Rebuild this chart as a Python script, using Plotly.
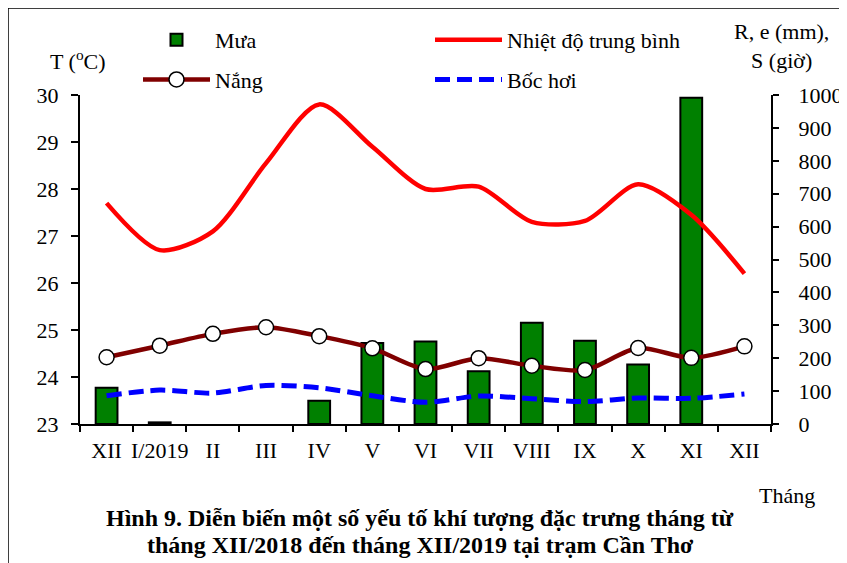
import plotly.graph_objects as go

# ---- data ----
months = ["XII/2018", "I/2019", "II", "III", "IV", "V", "VI", "VII", "VIII", "IX", "X", "XI", "XII/2019"]
month_labels = ["XII", "I/2019", "II", "III", "IV", "V", "VI", "VII", "VIII", "IX", "X", "XI", "XII"]
rain_mm = [110, 5, 0, 0, 71, 246, 251, 160, 308, 253, 181, 992, 0]
temp_c = [27.7, 26.7, 27.1, 28.55, 29.8, 28.9, 28.0, 28.05, 27.3, 27.32, 28.1, 27.45, 26.2]
sun_h = [203, 238, 274, 294, 267, 230, 167, 200, 177, 164, 231, 201, 236]
evap_mm = [86, 103, 94, 117, 110, 86, 66, 85, 77, 68, 79, 78, 91]

FONT = "Liberation Serif"
W, H = 847, 563
OFF = 8  # page body margin of the html page
# plot area in window pixels: x 80..771, y 95..424
PX0, PX1, PY0, PY1 = 80, 771, 95, 424
ML, MT = PX0 - OFF, PY0 - OFF
PW, PH = PX1 - PX0, PY1 - PY0
MR, MB = W - ML - PW, H - MT - PH


def px_x(p):
    return (p - PX0) / PW


def px_y(p):
    return 1 - (p - PY0) / PH


fig = go.Figure()

fig.add_trace(go.Bar(
    x=months, y=[v if v > 0 else None for v in rain_mm], name="Mưa", yaxis="y",
    marker=dict(color="#008000", line=dict(color="black", width=2)),
    legend="legend", legendgroup="a", legendrank=1,
))
fig.add_trace(go.Scatter(
    x=months, y=sun_h, name="Nắng", yaxis="y", mode="lines+markers",
    line=dict(color="#800000", width=4.5, shape="spline", smoothing=0.8),
    marker=dict(symbol="circle", size=15, color="white", line=dict(color="black", width=1.5)),
    legend="legend", legendgroup="b", legendrank=2,
))
fig.add_trace(go.Scatter(
    x=months, y=evap_mm, name="Bốc hơi", yaxis="y", mode="lines",
    line=dict(color="#0000FF", width=5, dash="15px,7px", shape="spline", smoothing=0.8),
    legend="legend2", legendgroup="d", legendrank=2,
))
fig.add_trace(go.Scatter(
    x=months, y=temp_c, name="Nhiệt độ trung bình", yaxis="y2", mode="lines",
    line=dict(color="#FF0000", width=4.5, shape="spline", smoothing=0.8),
    legend="legend2", legendgroup="c", legendrank=1,
))

tickfont = dict(family=FONT, size=22, color="black")
legfont = dict(family=FONT, size=22, color="black")

fig.update_layout(
    width=W, height=H,
    margin=dict(l=ML, r=MR, t=MT, b=MB, autoexpand=False),
    paper_bgcolor="white", plot_bgcolor="white",
    font=dict(family=FONT, size=22, color="black"),
    bargap=0.59,
    xaxis=dict(
        type="category", categoryorder="array", categoryarray=months,
        tickmode="array", tickvals=months, ticktext=month_labels, tickangle=0,
        tickson="boundaries", ticks="outside", ticklen=6, tickwidth=2, tickcolor="black",
        showline=True, linecolor="black", linewidth=2,
        showgrid=False, zeroline=False, tickfont=tickfont,
        range=[-0.5, 12.5], automargin=False, ticklabelstandoff=6,
    ),
    yaxis=dict(
        side="right", range=[0, 1000], dtick=100, tick0=0,
        ticks="outside", ticklen=6, tickwidth=2, tickcolor="black",
        showline=True, linecolor="black", linewidth=2,
        showgrid=False, zeroline=False, tickfont=tickfont,
        ticklabelstandoff=15, automargin=False,
    ),
    yaxis2=dict(
        side="left", overlaying="y", range=[23, 30], dtick=1, tick0=23,
        ticks="outside", ticklen=7, tickwidth=2, tickcolor="black",
        showline=True, linecolor="black", linewidth=2,
        showgrid=False, zeroline=False, tickfont=tickfont,
        ticklabelstandoff=8, automargin=False,
    ),
    legend=dict(
        x=px_x(138), y=px_y(19), xanchor="left", yanchor="top",
        orientation="v", bgcolor="rgba(0,0,0,0)", borderwidth=0,
        tracegroupgap=8, itemwidth=67, font=legfont,
    ),
    legend2=dict(
        x=px_x(430), y=px_y(19), xanchor="left", yanchor="top",
        orientation="v", bgcolor="rgba(0,0,0,0)", borderwidth=0,
        tracegroupgap=8, itemwidth=67, font=legfont,
    ),
    showlegend=True,
)

annotations = [
    dict(text="T (<sup>o</sup>C)", x=px_x(78), y=px_y(60), size=22),
    dict(text="R, e (mm),<br>S (giờ)", x=px_x(781), y=px_y(46), size=22),
    dict(text="Tháng", x=px_x(787), y=px_y(495), size=22),
    dict(text="<b>Hình 9. Diễn biến một số yếu tố khí tượng đặc trưng tháng từ</b>",
         x=px_x(420), y=px_y(518), size=24),
    dict(text="<b>tháng XII/2018 đến tháng XII/2019 tại trạm Cần Thơ</b>",
         x=px_x(420), y=px_y(545), size=24),
]
for a in annotations:
    s = a.pop("size")
    a.update(xref="paper", yref="paper", showarrow=False, align="center",
             xanchor="center", yanchor="middle",
             font=dict(family=FONT, size=s, color="black"))
fig.update_layout(annotations=annotations)

fig.add_shape(type="rect", xref="paper", yref="paper",
              x0=px_x(8), x1=px_x(841), y0=px_y(620), y1=px_y(8),
              line=dict(color="black", width=1.5), fillcolor="rgba(0,0,0,0)", layer="below")

fig.write_html("out.html")
